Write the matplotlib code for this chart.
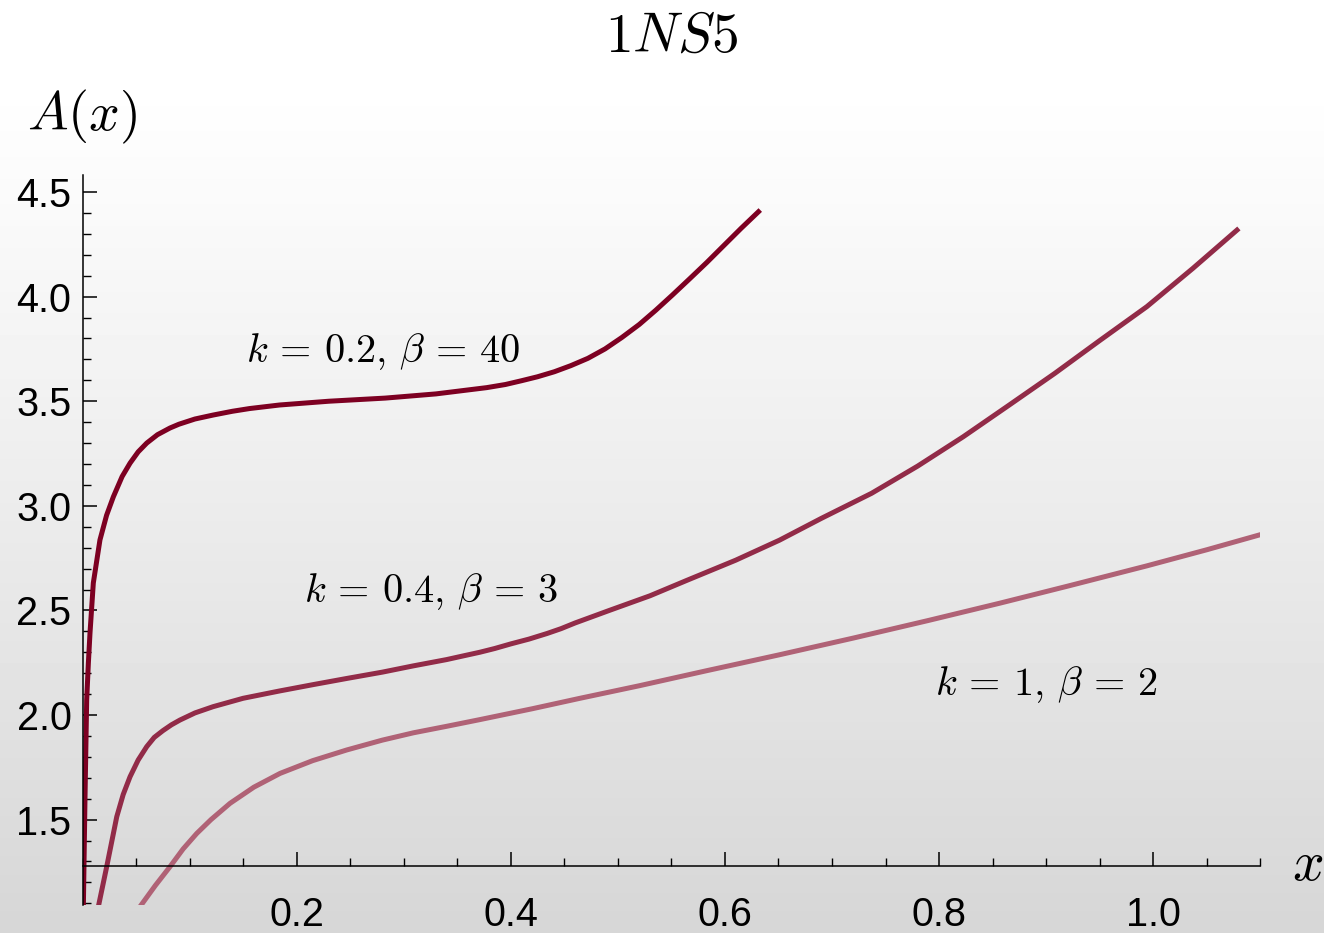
import numpy as np
import matplotlib
matplotlib.use("Agg")
import matplotlib.pyplot as plt
from matplotlib.ticker import MultipleLocator, FixedLocator, FormatStrFormatter

plt.rcParams["mathtext.fontset"] = "cm"
plt.rcParams["font.family"] = ["Liberation Sans", "DejaVu Sans"]

# values
x_k02 = [0.0008, 0.0023, 0.0039, 0.0055, 0.007, 0.0101, 0.0163, 0.0225, 0.0288, 0.037,
         0.0444, 0.052, 0.06, 0.07, 0.0817, 0.09, 0.105, 0.122, 0.14, 0.156,
         0.184, 0.23, 0.2827, 0.33, 0.3775, 0.395, 0.41, 0.425, 0.4407, 0.456,
         0.472, 0.488, 0.5038, 0.52, 0.5354, 0.551, 0.567, 0.583, 0.5985, 0.615,
         0.633]
y_k02 = [1.084, 1.594, 2.072, 2.25, 2.392, 2.631, 2.837, 2.955, 3.043, 3.14,
         3.204, 3.258, 3.30, 3.34, 3.372, 3.39, 3.415, 3.434, 3.452, 3.465,
         3.482, 3.500, 3.515, 3.535, 3.565, 3.58, 3.598, 3.617, 3.641, 3.67,
         3.705, 3.75, 3.805, 3.867, 3.935, 4.008, 4.085, 4.163, 4.242, 4.326,
         4.414]

x_k04 = [0.0148, 0.0226, 0.032, 0.038, 0.0444, 0.052, 0.06, 0.067, 0.075, 0.083,
         0.091, 0.105, 0.122, 0.15, 0.184, 0.215, 0.247, 0.28, 0.309, 0.34,
         0.355, 0.371, 0.385, 0.40, 0.417, 0.434, 0.447, 0.46, 0.492, 0.53,
         0.565, 0.61, 0.651, 0.69, 0.737, 0.78, 0.8225, 0.865, 0.908, 0.95,
         0.994, 1.037, 1.080]
y_k04 = [1.084, 1.275, 1.514, 1.62, 1.705, 1.785, 1.849, 1.893, 1.925, 1.953,
         1.976, 2.01, 2.04, 2.08, 2.115, 2.145, 2.175, 2.205, 2.235, 2.265,
         2.282, 2.30, 2.318, 2.34, 2.363, 2.39, 2.413, 2.44, 2.50, 2.57,
         2.645, 2.74, 2.836, 2.94, 3.06, 3.19, 3.33, 3.48, 3.633, 3.79,
         3.952, 4.135, 4.326]

x_k1 = [0.0537, 0.068, 0.0817, 0.094, 0.1067, 0.12, 0.1378, 0.16, 0.1845, 0.215,
        0.2468, 0.28, 0.309, 0.34, 0.371, 0.42, 0.4646, 0.52, 0.583, 0.65,
        0.72, 0.79, 0.857, 0.92, 0.994, 1.05, 1.102]
y_k1 = [1.084, 1.185, 1.275, 1.36, 1.434, 1.50, 1.578, 1.655, 1.721, 1.782,
        1.833, 1.88, 1.915, 1.946, 1.978, 2.03, 2.08, 2.14, 2.212, 2.287,
        2.368, 2.452, 2.535, 2.616, 2.713, 2.79, 2.865]

curve_labels = [r"$k \,=\, 0.2,\, \beta \,=\, 40$",
                r"$k \,=\, 0.4,\, \beta \,=\, 3$",
                r"$k \,=\, 1,\, \beta \,=\, 2$"]
label_x = [0.2807, 0.3255, 0.9003]
label_y = [3.687, 2.540, 2.096]
curve_colors = ["#7d0022", "#922b48", "#b06276"]

x_ticks = [0.2, 0.4, 0.6, 0.8, 1.0]
y_ticks = [1.5, 2.0, 2.5, 3.0, 3.5, 4.0, 4.5]

W, H = 1324, 933
fig = plt.figure(figsize=(W / 100, H / 100), dpi=100)

# background gradient
bg = fig.add_axes([0, 0, 1, 1], zorder=-10)
grad = np.linspace(0, 1, 256)
shade = np.clip(1.0 - 0.16 * np.clip((grad - 0.08) / 0.92, 0, 1) ** 1.1, 0, 1)
bg.imshow(np.tile(shade[:, None], (1, 2)), aspect="auto", cmap="gray",
          vmin=0, vmax=1, extent=[0, 1, 0, 1], origin="upper")
bg.axis("off")

ax = fig.add_axes([82.5 / W, (H - 905.4) / H, 1177.8 / W, (905.4 - 175.3) / H])
ax.patch.set_visible(False)

for xs, ys, c in zip([x_k02, x_k04, x_k1], [y_k02, y_k04, y_k1], curve_colors):
    ax.plot(xs, ys, color=c, lw=3.6, solid_joinstyle="round", solid_capstyle="butt")

ax.set_xlim(0, 1.1)
ax.set_ylim(1.09, 4.58)

ax.spines["top"].set_visible(False)
ax.spines["right"].set_visible(False)
ax.spines["bottom"].set_position(("data", 1.28))
for s in ["left", "bottom"]:
    ax.spines[s].set_linewidth(1.1)

ax.xaxis.set_major_locator(FixedLocator(x_ticks))
ax.xaxis.set_minor_locator(MultipleLocator(0.05))
ax.yaxis.set_major_locator(FixedLocator(y_ticks))
ax.yaxis.set_minor_locator(MultipleLocator(0.1))
ax.xaxis.set_major_formatter(FormatStrFormatter("%.1f"))
ax.yaxis.set_major_formatter(FormatStrFormatter("%.1f"))

ax.tick_params(which="major", direction="in", length=10, width=1.1, labelsize=28.5)
ax.tick_params(which="minor", direction="in", length=5.8, width=1.0)
ax.tick_params(axis="x", which="major", pad=22)
ax.tick_params(axis="y", which="major", pad=8)

for t, lx, ly in zip(curve_labels, label_x, label_y):
    ax.text(lx, ly, t, fontsize=29, ha="center", va="baseline")

fig.text(672 / W, 1 - 52 / H, r"$1NS5$", fontsize=40, ha="center", va="baseline")
fig.text(27 / W, 1 - 130 / H, r"$A(x)$", fontsize=39, ha="left", va="baseline")
fig.text(1308 / W, 1 - 880 / H, r"$x$", fontsize=40, ha="center", va="baseline")

fig.savefig("out.png", dpi=100)
